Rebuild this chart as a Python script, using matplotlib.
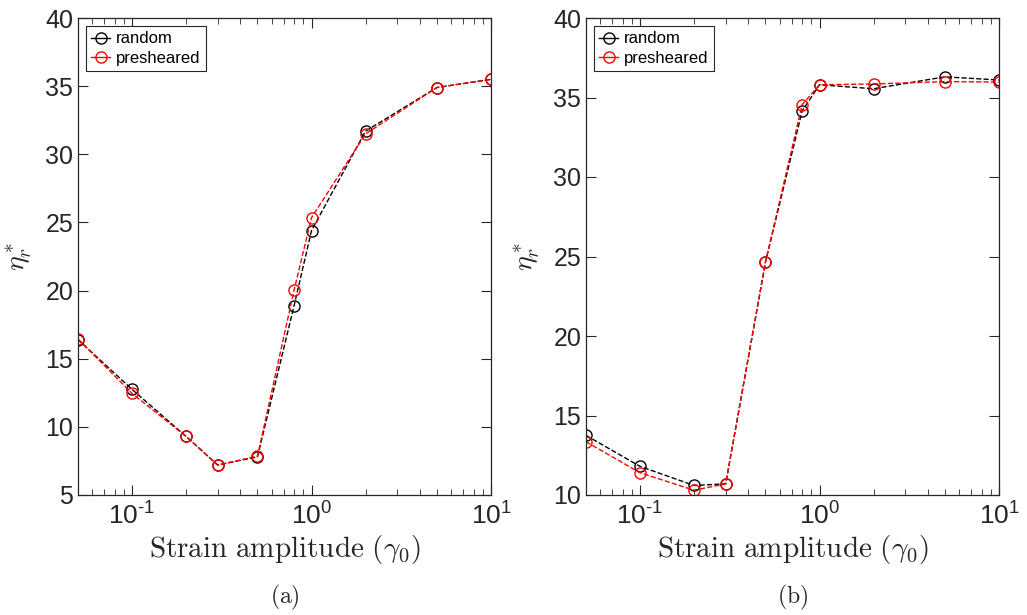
import matplotlib

matplotlib.use("Agg")
import matplotlib.pyplot as plt
from matplotlib.ticker import LogLocator, NullFormatter

plt.rcParams["font.family"] = ["Liberation Sans", "DejaVu Sans"]
plt.rcParams["mathtext.fontset"] = "custom"
plt.rcParams["mathtext.rm"] = "Liberation Sans"
plt.rcParams["mathtext.it"] = "Liberation Sans:italic"
plt.rcParams["mathtext.bf"] = "Liberation Sans:bold"

# strain amplitudes (shared by both panels)
strain = [0.05, 0.1, 0.2, 0.3, 0.5, 0.8, 1.0, 2.0, 5.0, 10.0]
xtick_vals = [0.1, 1, 10]
xtick_text = [r"$\mathrm{10}^{\text{-1}}$", r"$\mathrm{10}^{\mathrm{0}}$", r"$\mathrm{10}^{\mathrm{1}}$"]

# panel (a)
eta_a_random = [16.4, 12.75, 9.3, 7.2, 7.8, 18.9, 24.4, 31.7, 34.9, 35.5]
eta_a_presheared = [16.45, 12.45, 9.3, 7.2, 7.85, 20.05, 25.35, 31.5, 34.9, 35.5]

# panel (b)
eta_b_random = [13.75, 11.8, 10.6, 10.7, 24.65, 34.15, 35.8, 35.55, 36.3, 36.1]
eta_b_presheared = [13.35, 11.4, 10.3, 10.7, 24.65, 34.55, 35.8, 35.85, 36.0, 35.97]

panels = [
    ("(a)", eta_a_random, eta_a_presheared, (5, 40)),
    ("(b)", eta_b_random, eta_b_presheared, (10, 40)),
]

AX_COLOR = "#262626"

fig = plt.figure(figsize=(10.27, 6.15), dpi=100)
lefts = [78 / 1027, 586 / 1027]
width = 413 / 1027
bottom = 1 - 495 / 615
height = 477 / 615

for left, (tag, rnd, pre, ylim) in zip(lefts, panels):
    ax = fig.add_axes([left, bottom, width, height])
    ax.plot(strain, rnd, ls="--", color="k", marker="o", mfc="none",
            ms=8, lw=1.0, mew=1.0, label="random")
    ax.plot(strain, pre, ls="--", color="r", marker="o", mfc="none",
            ms=8, lw=1.0, mew=1.0, label="presheared")
    ax.set_xscale("log")
    ax.set_xlim(0.05, 10)
    ax.set_ylim(*ylim)
    ax.set_yticks(range(ylim[0], 41, 5))
    ax.xaxis.set_minor_locator(LogLocator(base=10, subs=range(2, 10), numticks=20))
    ax.xaxis.set_minor_formatter(NullFormatter())
    ax.set_xticks(xtick_vals)
    ax.set_xticklabels(xtick_text)
    ax.tick_params(which="both", direction="in", top=True, right=True,
                   colors=AX_COLOR, labelsize=18)
    ax.tick_params(axis="x", labelsize=19, pad=5)
    ax.tick_params(which="major", length=7, width=0.8)
    ax.tick_params(which="minor", length=4, width=0.6)
    for sp in ax.spines.values():
        sp.set_color(AX_COLOR)
        sp.set_linewidth(0.9)
    ax.set_xlabel(r"$\mathrm{Strain\ amplitude\ (\gamma_0)}$", fontsize=21,
                  color=AX_COLOR, labelpad=3, math_fontfamily="cm")
    ax.set_ylabel(r"$\eta_r^*$", fontsize=20, color=AX_COLOR, labelpad=8,
                  math_fontfamily="cm")
    ax.text(0.5, -0.215, r"$\mathrm{" + tag + "}$", transform=ax.transAxes,
            ha="center", va="center", fontsize=17, color=AX_COLOR,
            math_fontfamily="cm")
    leg = ax.legend(loc="upper left", fontsize=12, handlelength=1.1,
                    handletextpad=0.4, borderpad=0.3, labelspacing=0.25,
                    fancybox=False, framealpha=1, borderaxespad=0.5)
    leg.get_frame().set_edgecolor(AX_COLOR)
    leg.get_frame().set_linewidth(0.8)
    for line in leg.get_lines():
        line.set_linestyle("-")

fig.savefig("out.png", dpi=100)
